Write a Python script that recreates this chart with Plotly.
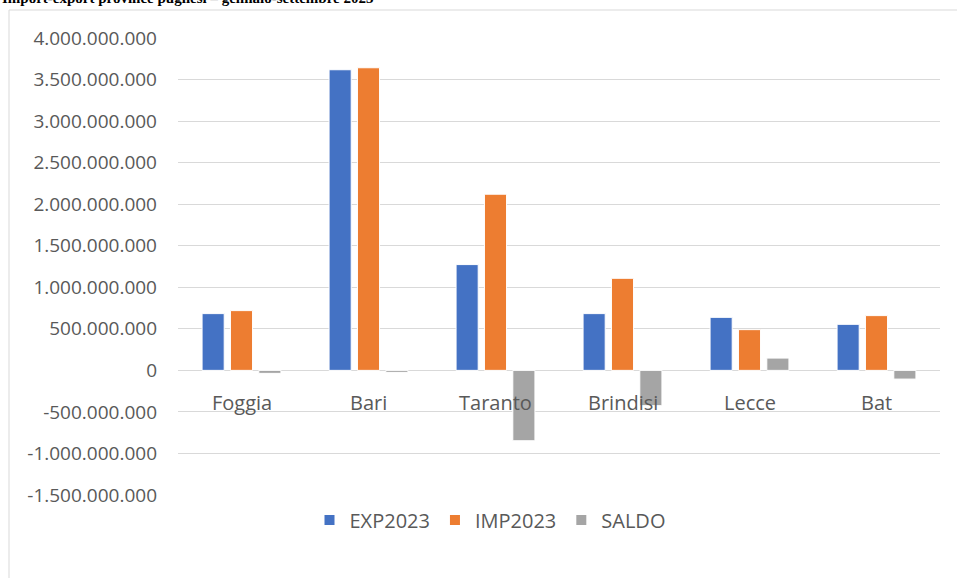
import plotly.graph_objects as go

categories = ["Foggia", "Bari", "Taranto", "Brindisi", "Lecce", "Bat"]
exp2023 = [683e6, 3618e6, 1273e6, 683e6, 638e6, 554e6]
imp2023 = [719e6, 3642e6, 2120e6, 1108e6, 490e6, 659e6]
saldo = [-36e6, -24e6, -847e6, -425e6, 148e6, -105e6]
tick_vals = [4e9, 3.5e9, 3e9, 2.5e9, 2e9, 1.5e9, 1e9, 5e8, 0, -5e8, -1e9, -1.5e9]
tick_text = ["4.000.000.000", "3.500.000.000", "3.000.000.000", "2.500.000.000",
             "2.000.000.000", "1.500.000.000", "1.000.000.000", "500.000.000", "0",
             "-500.000.000", "-1.000.000.000", "-1.500.000.000"]
title_text = "Import-export province pugliesi – gennaio-settembre 2023"

FONT = "Open Sans, Liberation Sans, sans-serif"
GREY_TXT = "#595959"

fig = go.Figure()
for name, vals, col in [("EXP2023", exp2023, "#4472C4"),
                        ("IMP2023", imp2023, "#ED7D31"),
                        ("SALDO", saldo, "#A5A5A5")]:
    fig.add_trace(go.Bar(x=categories, y=vals, name=name,
                         marker=dict(color=col, line=dict(color="white", width=1))))

W, H = 957, 578
L, R, T, B = 178, 17, 38, 83
pw, ph = W - L - R, H - T - B

def px_x(p):
    return (p - L) / pw

def px_y(p):
    return (H - B - p) / ph

for c in categories:
    fig.add_annotation(x=c, y=0, xref="x", yref="y", text=c, showarrow=False,
                       yshift=-32, font=dict(family=FONT, size=20, color=GREY_TXT))

fig.add_annotation(x=px_x(0), y=px_y(8), xref="paper", yref="paper", text="<b>" + title_text + "</b>",
                   showarrow=False, xanchor="left", yanchor="bottom",
                   font=dict(family="Liberation Serif, Times New Roman, serif", size=15, color="#000000"))

fig.add_shape(type="rect", xref="paper", yref="paper",
              x0=px_x(9), x1=px_x(965), y0=px_y(585), y1=px_y(10),
              line=dict(color="#D9D9D9", width=1), fillcolor="rgba(0,0,0,0)", layer="below")

fig.update_layout(
    width=W, height=H,
    margin=dict(l=L, r=R, t=T, b=B, autoexpand=False),
    paper_bgcolor="white", plot_bgcolor="white",
    barmode="group", bargap=0.33, bargroupgap=0.22,
    showlegend=True,
    legend=dict(orientation="h", x=px_x(490), xanchor="center", y=px_y(520), yanchor="middle",
                font=dict(family=FONT, size=20, color=GREY_TXT), itemsizing="constant",
                traceorder="normal"),
    xaxis=dict(showticklabels=False, showgrid=False, zeroline=False, showline=False),
    yaxis=dict(range=[-1.5e9, 4e9], tickvals=tick_vals, ticktext=tick_text,
               showgrid=True, gridcolor="#D9D9D9", gridwidth=1.3,
               zeroline=True, zerolinecolor="#D9D9D9", zerolinewidth=1.3,
               showline=False, ticks="", ticklabelstandoff=20,
               tickfont=dict(family=FONT, size=19, color=GREY_TXT)),
)

fig.write_html("out.html", config={"displayModeBar": False},
               post_script="document.body.style.margin='0px';document.body.style.overflow='hidden';")
